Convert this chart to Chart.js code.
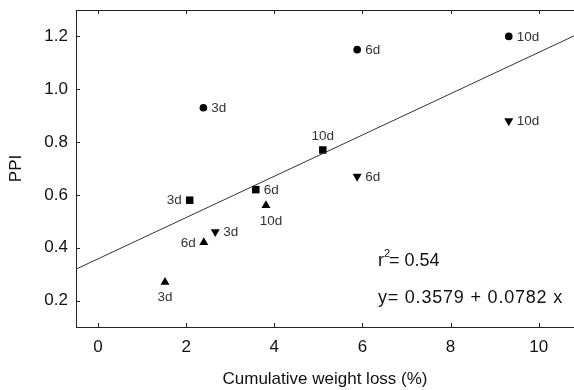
<!DOCTYPE html>
<html>
<head>
<meta charset="utf-8">
<script src="https://cdn.jsdelivr.net/npm/chart.js@4"></script>
<style>
  html, body { margin: 0; padding: 0; background: #fff; }
  #wrap { width: 574px; height: 390px; }
</style>
</head>
<body>
<div id="wrap"><canvas id="chart" width="574" height="390"></canvas></div>
<script>
const FONT = 'Arial, "Liberation Sans", sans-serif';

// days labels shared by every series
const dayLabels = ['3d', '6d', '10d'];

// circles
const circleX = [2.39, 5.88, 9.32];
const circleY = [0.93, 1.15, 1.20];
// squares
const squareX = [2.08, 3.58, 5.10];
const squareY = [0.58, 0.62, 0.77];
// upward triangles
const triUpX = [1.52, 2.40, 3.81];
const triUpY = [0.27, 0.42, 0.56];
// downward triangles
const triDownX = [2.66, 5.88, 9.32];
const triDownY = [0.46, 0.67, 0.88];

// fitted line endpoints (y = 0.3579 + 0.0782 x)
const fitX = [-0.5, 10.8];
const fitY = [0.319, 1.202];

const xTickValues = [0, 2, 4, 6, 8, 10];
const yTickValues = [0.2, 0.4, 0.6, 0.8, 1.0, 1.2];

const rSquaredText = '0.54';
const equationText = 'y= 0.3579 + 0.0782 x';

const toPoints = (xs, ys) => xs.map((x, i) => ({ x: x, y: ys[i] }));

// where each day label sits relative to its marker
const circlePlace = ['right', 'right', 'right'];
const squarePlace = ['left', 'right', 'above'];
const triUpPlace = ['below', 'left', 'below'];
const triDownPlace = ['right', 'right', 'right'];

const markerDataset = (xs, ys, style, radius, rotation, place) => ({
  type: 'scatter',
  data: toPoints(xs, ys),
  pointStyle: style,
  pointRadius: radius,
  pointRotation: rotation,
  backgroundColor: '#000',
  borderColor: '#000',
  borderWidth: 0,
  dayPlace: place
});

const pointLabels = {
  id: 'pointLabels',
  afterDatasetsDraw(chart) {
    const ctx = chart.ctx;
    ctx.save();
    ctx.font = '13.5px ' + FONT;
    ctx.fillStyle = '#333';
    chart.data.datasets.forEach((ds, i) => {
      if (!ds.dayPlace) return;
      chart.getDatasetMeta(i).data.forEach((pt, j) => {
        const place = ds.dayPlace[j];
        const txt = dayLabels[j];
        let x = pt.x, y = pt.y;
        if (place === 'right') { ctx.textAlign = 'left'; ctx.textBaseline = 'middle'; x += 8; }
        else if (place === 'left') { ctx.textAlign = 'right'; ctx.textBaseline = 'middle'; x -= 8; }
        else if (place === 'above') { ctx.textAlign = 'center'; ctx.textBaseline = 'middle'; y -= 14; }
        else { ctx.textAlign = 'center'; ctx.textBaseline = 'middle'; y += 15; if (txt === '10d') x += 5; }
        ctx.fillText(txt, x, y + 0.5);
      });
    });
    ctx.restore();
  }
};

const frameAndText = {
  id: 'frameAndText',
  afterDraw(chart) {
    const ctx = chart.ctx;
    const a = chart.chartArea;
    const xs = chart.scales.x, ys = chart.scales.y;
    ctx.save();
    ctx.strokeStyle = '#222';
    ctx.lineWidth = 1;
    ctx.beginPath();
    // top frame line
    ctx.moveTo(a.left, a.top + 0.5);
    ctx.lineTo(a.right, a.top + 0.5);
    // inward ticks
    xTickValues.forEach(v => {
      const px = Math.round(xs.getPixelForValue(v)) + 0.5;
      ctx.moveTo(px, a.bottom);
      ctx.lineTo(px, a.bottom - 4);
      ctx.moveTo(px, a.top);
      ctx.lineTo(px, a.top + 4);
    });
    yTickValues.forEach(v => {
      const py = Math.round(ys.getPixelForValue(v)) + 0.5;
      ctx.moveTo(a.left, py);
      ctx.lineTo(a.left + 4, py);
    });
    ctx.stroke();

    // regression annotation
    const tx = xs.getPixelForValue(6.35);
    ctx.fillStyle = '#111';
    ctx.textAlign = 'left';
    ctx.textBaseline = 'middle';
    ctx.font = '18px ' + FONT;
    const y1 = ys.getPixelForValue(0.35);
    ctx.fillText('r', tx, y1);
    let w = ctx.measureText('r').width;
    ctx.font = '11px ' + FONT;
    ctx.fillText('2', tx + w, y1 - 7);
    w += ctx.measureText('2').width - 1;
    ctx.font = '18px ' + FONT;
    ctx.fillText('= ' + rSquaredText, tx + w, y1);
    ctx.letterSpacing = '0.8px';
    ctx.fillText(equationText, tx, ys.getPixelForValue(0.21));
    ctx.restore();
  }
};

new Chart(document.getElementById('chart'), {
  data: {
    datasets: [
      {
        type: 'line',
        data: toPoints(fitX, fitY),
        borderColor: '#333',
        borderWidth: 1,
        pointRadius: 0,
        fill: false
      },
      markerDataset(circleX, circleY, 'circle', 3.8, 0, circlePlace),
      markerDataset(squareX, squareY, 'rect', 5.3, 0, squarePlace),
      markerDataset(triUpX, triUpY, 'triangle', 5.2, 0, triUpPlace),
      markerDataset(triDownX, triDownY, 'triangle', 5.2, 180, triDownPlace)
    ]
  },
  options: {
    responsive: false,
    animation: false,
    layout: { autoPadding: false, padding: { top: 10, right: 0, left: 0, bottom: 0 } },
    plugins: {
      legend: { display: false },
      tooltip: { enabled: false }
    },
    scales: {
      x: {
        type: 'linear',
        position: 'bottom',
        min: -0.5,
        max: 10.8,
        afterBuildTicks: s => { s.ticks = xTickValues.map(v => ({ value: v })); },
        afterFit: s => { s.height = 63; s.paddingLeft = 0; s.paddingRight = 0; },
        grid: { display: false, drawTicks: false },
        border: { display: true, color: '#222', width: 1 },
        ticks: {
          padding: 10,
          color: '#111',
          font: { family: FONT, size: 17 },
          maxRotation: 0,
          callback: v => String(v)
        },
        title: {
          display: true,
          text: 'Cumulative weight loss (%)',
          color: '#111',
          font: { family: FONT, size: 17 },
          padding: { top: 0, bottom: 0 }
        }
      },
      y: {
        type: 'linear',
        min: 0.1,
        max: 1.3,
        afterBuildTicks: s => { s.ticks = yTickValues.map(v => ({ value: v })); },
        afterFit: s => { s.width = 76; s.paddingTop = 0; s.paddingBottom = 0; },
        grid: { display: false, drawTicks: false },
        border: { display: true, color: '#222', width: 1 },
        ticks: {
          padding: 8,
          color: '#111',
          font: { family: FONT, size: 17 },
          callback: v => v.toFixed(1)
        },
        title: {
          display: true,
          text: 'PPI',
          color: '#111',
          font: { family: FONT, size: 17 },
          padding: { top: 6, bottom: 0 }
        }
      }
    }
  },
  plugins: [pointLabels, frameAndText]
});
</script>
</body>
</html>
